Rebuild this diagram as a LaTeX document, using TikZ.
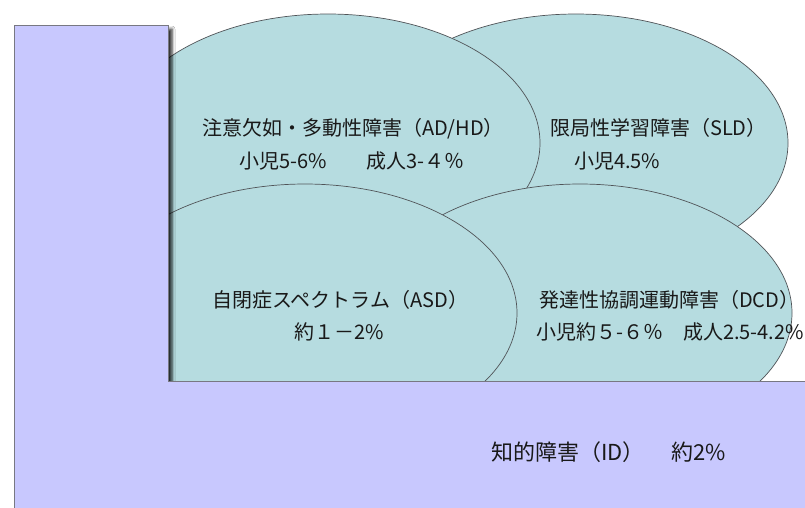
\documentclass[tikz,border=0pt]{standalone}
\usepackage{fontspec}
\setmainfont{Noto Sans CJK JP}
\usetikzlibrary{shadows.blur}
\definecolor{lavfill}{RGB}{200,200,254}
\definecolor{lavline}{RGB}{120,120,130}
\definecolor{ellfill}{RGB}{182,220,224}
\definecolor{ellline}{RGB}{80,84,88}
\definecolor{txt}{RGB}{25,25,25}
\begin{document}
\begin{tikzpicture}[x=1pt,y=-1pt,
  ell/.style={fill=ellfill, draw=ellline, line width=0.7pt},
  lbl/.style={font=\fontsize{20}{24}\selectfont, inner sep=0pt, text=txt, anchor=west}]
\useasboundingbox (0,0) rectangle (805,507);
\fill[white] (0,0) rectangle (805,507);
% ellipses, back to front
\draw[ell] (576,143) ellipse [x radius=212, y radius=129];
\draw[ell] (328,143) ellipse [x radius=212, y radius=129];
\draw[ell] (580,313) ellipse [x radius=212, y radius=129];
\draw[ell] (305,313) ellipse [x radius=212, y radius=129];
% L-shaped region
\draw[fill=lavfill, draw=lavline, line width=0.8pt,
  blur shadow={shadow xshift=4pt, shadow yshift=-4pt, shadow blur radius=3pt, shadow opacity=85}]
  (14,25) -- (168,25) -- (168,381) -- (812,381) -- (812,514) -- (14,514) -- cycle;
% labels
\node[lbl] (adhd1) at (202,129) {注意欠如・多動性障害（AD/HD）};
\node[lbl] (adhd2) at (239,161) {小児5-6\%　　成人3-４％};
\node[lbl] (sld1) at (550,128) {限局性学習障害（SLD）};
\node[lbl] (sld2) at (574,161) {小児4.5\%};
\node[lbl] (asd1) at (212,300) {自閉症スペクトラム（ASD）};
\node[lbl] (asd2) at (294,332) {約１－2\%};
\node[lbl] (dcd1) at (539,300) {発達性協調運動障害（DCD）};
\node[lbl] (dcd2) at (536,332) {小児約５-６％　成人2.5-4.2\%};
\node[lbl, font=\fontsize{22}{26}\selectfont] (id) at (491,452) {知的障害（ID）　 約2\%};
\end{tikzpicture}
\end{document}
